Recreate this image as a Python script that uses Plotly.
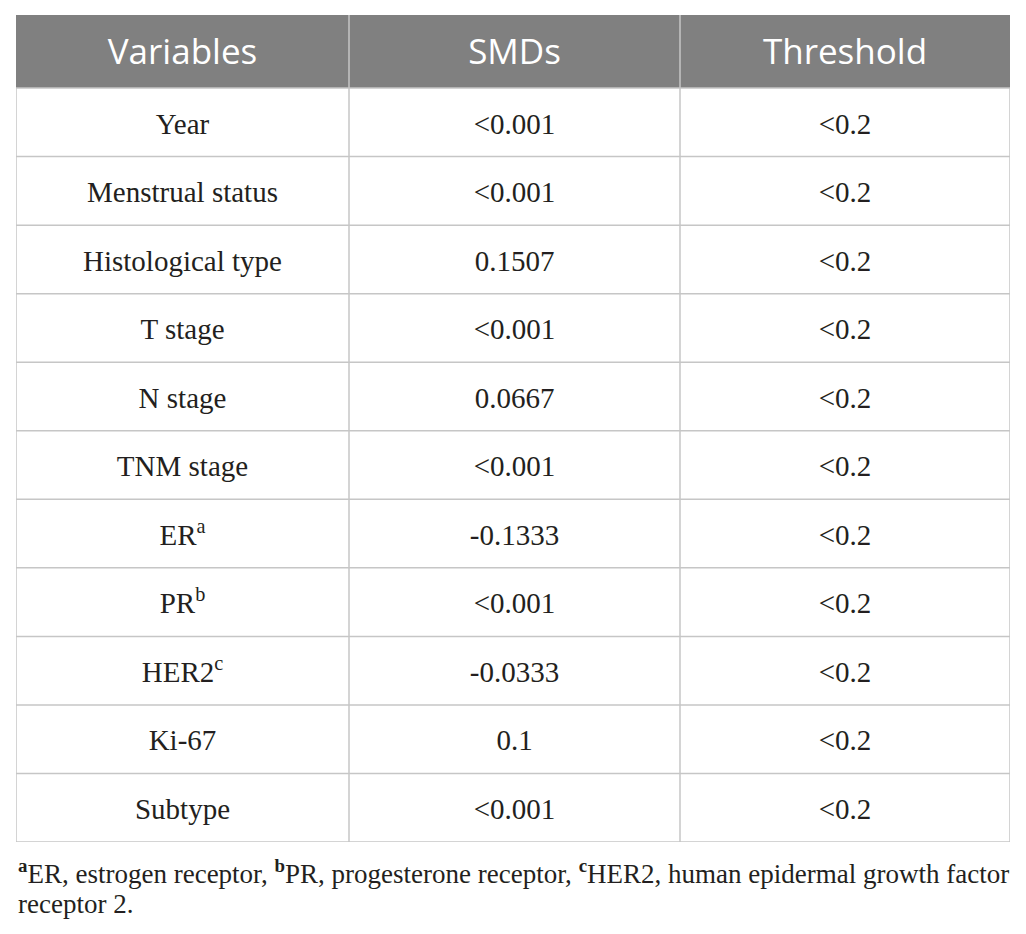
import numpy as np
import plotly.graph_objects as go

# dados da tabela
header = ["Variables", "SMDs", "Threshold"]
variables = ["Year", "Menstrual status", "Histological type", "T stage", "N stage",
             "TNM stage", "ER<sup>a</sup>", "PR<sup>b</sup>", "HER2<sup>c</sup>",
             "Ki-67", "Subtype"]
smds = ["<0.001", "<0.001", "0.1507", "<0.001", "0.0667", "<0.001",
        "-0.1333", "<0.001", "-0.0333", "0.1", "<0.001"]
threshold = ["<0.2"] * 11
footnote_1 = ("<b><sup>a</sup></b>ER, estrogen receptor, <b><sup>b</sup></b>PR, progesterone receptor, "
              "<b><sup>c</sup></b>HER2, human epidermal growth factor")
footnote_2 = "receptor 2."

# layout (px) - a pagina tem margem de 8px no body
W, H = 1018, 926
col_w = [333, 331, 330]
row_h = 68.5
head_h = 73 / row_h          # altura do cabecalho em unidades de linha
n = len(variables)
line_col = "#c6c6c6"
desloc = 4 / row_h           # texto um pouco abaixo do centro, como no original

edges = np.concatenate([[0], np.cumsum(col_w)])
centers = (edges[:-1] + edges[1:]) / 2

fig = go.Figure()

# fundo do cabecalho
fig.add_shape(type="rect", x0=0, x1=edges[-1], y0=-head_h, y1=0,
              fillcolor="#808080", line_width=0, layer="below")
# linhas horizontais
for yy in range(0, n + 1):
    fig.add_shape(type="line", x0=0, x1=edges[-1], y0=yy, y1=yy,
                  line=dict(color=line_col, width=1.5))
# linhas verticais
for k, xx in enumerate(edges):
    fig.add_shape(type="line", x0=xx, x1=xx, y0=-head_h if 0 < k < len(edges) - 1 else 0, y1=n,
                  line=dict(color=line_col, width=1.5))

# cabecalho
fig.add_trace(go.Scatter(x=centers, y=[-head_h / 2 + desloc] * 3, text=header, mode="text",
                         textposition="middle center", hoverinfo="skip",
                         textfont=dict(family="Open Sans", size=35, color="white")))
# corpo
for cx, col in zip(centers, (variables, smds, threshold)):
    fig.add_trace(go.Scatter(x=[cx] * n, y=np.arange(n) + 0.5 + desloc, text=col, mode="text",
                             textposition="middle center", hoverinfo="skip",
                             textfont=dict(family="Liberation Serif", size=29, color="#231f20")))

# nota de rodape
plot_h = H - 7 - (H - 834)
for txt, yc in ((footnote_1, 864), (footnote_2, 896)):
    fig.add_annotation(text=txt, xref="paper", yref="paper", x=0, y=(834 - yc) / plot_h,
                       xanchor="left", yanchor="middle", align="left", showarrow=False,
                       font=dict(family="Liberation Serif", size=27, color="#231f20"))

fig.update_xaxes(range=[0, edges[-1]], visible=False, fixedrange=True)
fig.update_yaxes(range=[n, -head_h], visible=False, fixedrange=True)
fig.update_layout(width=W, height=H, margin=dict(l=8, r=W - 8 - edges[-1], t=7, b=H - 834),
                  paper_bgcolor="white", plot_bgcolor="white", showlegend=False)
fig.write_html("out.html")
